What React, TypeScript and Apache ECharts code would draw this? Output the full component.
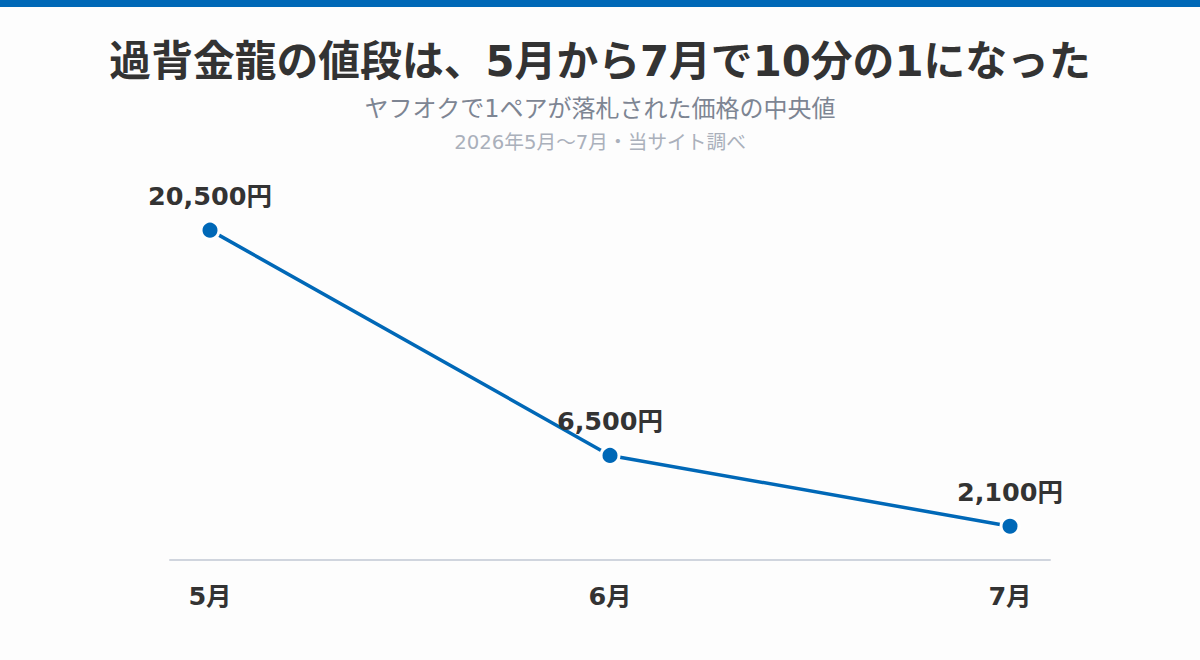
import React, { useEffect, useRef } from 'react';
import * as echarts from 'echarts';

const months = ['5月', '6月', '7月'];
const prices = [20500, 6500, 2100];

const titleText = '過背金龍の値段は、5月から7月で10分の1になった';
const subText = 'ヤフオクで1ペアが落札された価格の中央値';
const noteText = '2026年5月〜7月・当サイト調べ';

const FONT = '"DejaVu Sans", "Noto Sans CJK JP", sans-serif';
const BLUE = '#0068b7';

export default function App() {
  const chartRef = useRef<HTMLDivElement>(null);

  useEffect(() => {
    document.body.style.margin = '0';
    if (!chartRef.current) return;
    const chart = echarts.init(chartRef.current, null, { renderer: 'svg' });

    const option = {
      animation: false,
      backgroundColor: '#fdfdfd',
      textStyle: { fontFamily: FONT },
      graphic: [
        {
          type: 'rect',
          left: 0,
          top: 0,
          shape: { width: 1200, height: 7 },
          style: { fill: BLUE }
        }
      ],
      title: [
        {
          text: titleText,
          left: 'center',
          top: 40,
          padding: 0,
          textStyle: { fontFamily: FONT, fontSize: 41.8, fontWeight: 'bold', color: '#333333', lineHeight: 42 }
        },
        {
          text: subText,
          left: 'center',
          top: 97,
          padding: 0,
          textStyle: { fontFamily: FONT, fontSize: 24, fontWeight: 'normal', color: '#7d8593', lineHeight: 24 }
        },
        {
          text: noteText,
          left: 'center',
          top: 132,
          padding: 0,
          textStyle: { fontFamily: FONT, fontSize: 19.7, fontWeight: 'normal', color: '#aab0bb', lineHeight: 20 }
        }
      ],
      grid: {
        left: 170,
        right: 150,
        top: 206,
        bottom: 100
      },
      xAxis: {
        type: 'value',
        min: -0.1,
        max: 2.1,
        splitLine: { show: false },
        axisTick: { show: false },
        axisLine: { show: true, lineStyle: { color: '#d0d5de', width: 2 } },
        axisLabel: {
          customValues: [0, 1, 2],
          formatter: (v: number) => months[Math.round(v)] ?? '',
          margin: 23,
          fontFamily: FONT,
          fontSize: 25.5,
          fontWeight: 'bold',
          color: '#333333'
        }
      },
      yAxis: {
        type: 'value',
        min: 0,
        max: 22000,
        show: false,
        splitLine: { show: false }
      },
      series: [
        {
          type: 'line',
          data: prices.map((p, i) => [i, p]),
          symbol: 'circle',
          symbolSize: 18,
          lineStyle: { color: BLUE, width: 3.5 },
          itemStyle: { color: BLUE, borderColor: '#ffffff', borderWidth: 3 },
          label: {
            show: true,
            position: 'top',
            distance: 11,
            formatter: (p: any) => p.value[1].toLocaleString('en-US') + '円',
            fontFamily: FONT,
            fontSize: 25.5,
            fontWeight: 'bold',
            color: '#333333'
          }
        }
      ]
    };

    chart.setOption(option);
    return () => {
      chart.dispose();
    };
  }, []);

  return <div ref={chartRef} style={{ width: 1200, height: 660 }} />;
}
